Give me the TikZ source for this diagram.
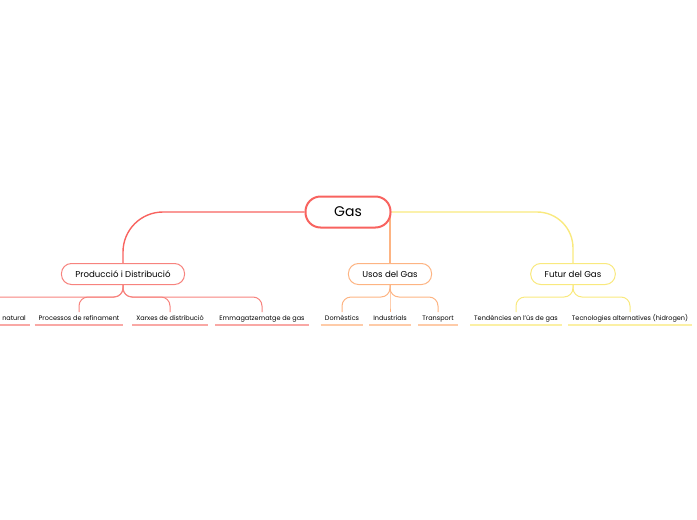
\documentclass[tikz,border=0pt]{standalone}
\usepackage{fontspec}
\setmainfont{Poppins}
\usetikzlibrary{positioning,backgrounds}
\definecolor{gasred}{HTML}{F8635F}
\definecolor{prodred}{HTML}{F7837E}
\definecolor{usosorange}{HTML}{FDB483}
\definecolor{futuryellow}{HTML}{F9E97E}
\begin{document}
\begin{tikzpicture}[x=1pt, y=-1pt,
  topic/.style={draw=gasred, line width=2pt, fill=white, rounded corners=15pt,
    minimum width=85pt, minimum height=31pt, font=\fontsize{14}{16}\selectfont},
  branch/.style={draw=#1, line width=1pt, fill=white, rounded corners=10pt,
    minimum height=21pt, inner xsep=14pt, font=\fontsize{8.6}{10}\selectfont},
  leaf/.style={anchor=south, inner xsep=4pt, inner ysep=3pt, text height=5pt, text depth=1.5pt,
    font=\fontsize{6.5}{7}\selectfont,
    append after command={(\tikzlastnode.south west) edge[draw=#1, line width=1.3pt] (\tikzlastnode.south east)}},
  link/.style={draw=#1, line width=1.4pt},
  sublink/.style={draw=#1, line width=1pt, rounded corners=9pt}]
  \clip (0,0) rectangle (697,520);
  % Gas
  \node[topic] (gas) at (348,212) {Gas};
  \node[branch=prodred] (prod) at (123,274) {Producció i Distribució};
  \node[branch=usosorange] (usos) at (390,274) {Usos del Gas};
  \node[branch=futuryellow] (futur) at (573,274) {Futur del Gas};
  \begin{scope}[on background layer]
    \draw[link=gasred, rounded corners=40pt] (gas.west) -| (prod.north);
    \draw[link=usosorange] (usos.north) -- (usos.north |- gas.center);
    \draw[link=futuryellow, rounded corners=36pt] (gas.east) -| (futur.north);
  \end{scope}
  % Producció i Distribució
  \coordinate (natural top) at (-12,312);
  \node[leaf=prodred!70, anchor=south east] (natural) at (30,325) {natural};
  \node[leaf=prodred!70] (refi) at (79,325) {Processos de refinament};
  \node[leaf=prodred!70] (xarxes) at (170,325) {Xarxes de distribució};
  \node[leaf=prodred!70] (emmag) at (262,325) {Emmagatzematge de gas};
  \foreach \n in {natural top, refi, xarxes, emmag}
    \draw[sublink=prodred] (prod.south) -- ++(0,12) -| (\n.north);
  % Usos del Gas
  \node[leaf=usosorange!70] (domes) at (342,325) {Domèstics};
  \node[leaf=usosorange!70] (indus) at (390,325) {Industrials};
  \node[leaf=usosorange!70] (transp) at (438,325) {Transport};
  \foreach \n in {domes, indus, transp}
    \draw[sublink=usosorange] (usos.south) -- ++(0,12) -| (\n.north);
  % Futur del Gas
  \node[leaf=futuryellow!70] (tend) at (516,325) {Tendències en l'ús de gas};
  \node[leaf=futuryellow!70] (tecno) at (630,325) {Tecnologies alternatives (hidrogen)};
  \foreach \n in {tend, tecno}
    \draw[sublink=futuryellow] (futur.south) -- ++(0,12) -| (\n.north);
\end{tikzpicture}
\end{document}
